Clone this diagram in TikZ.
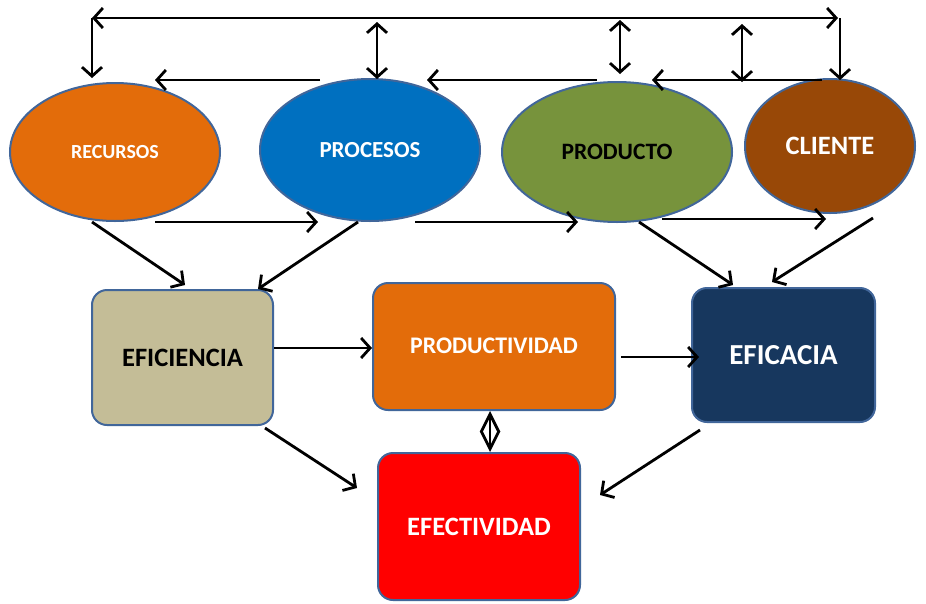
\documentclass[tikz,border=0pt]{standalone}
\usepackage{fontspec}
\setmainfont{Carlito}
\usetikzlibrary{arrows.meta,shapes.geometric}
\definecolor{cOrange}{HTML}{E36C0A}
\definecolor{cBlue}{HTML}{0070C0}
\definecolor{cGreen}{HTML}{77933C}
\definecolor{cBrown}{HTML}{984807}
\definecolor{cTan}{HTML}{C4BD97}
\definecolor{cNavy}{HTML}{17375E}
\definecolor{cRed}{HTML}{FF0000}
\definecolor{cEdge}{HTML}{41669A}
\tikzset{
  ell/.style={ellipse, draw=cEdge, line width=2pt, inner sep=0pt, font=\bfseries},
  rbox/.style={rectangle, rounded corners=15pt, draw=cEdge, line width=2pt, inner sep=0pt, font=\bfseries},
  arr/.style={line width=2.8pt, -{Straight Barb[length=9pt,width=20pt,line width=2.8pt]}},
  darr/.style={line width=2.8pt, {Straight Barb[length=9pt,width=20pt,line width=2.8pt]}-{Straight Barb[length=9pt,width=20pt,line width=2.8pt]}},
  kite/.style={line width=2.8pt, {Straight Barb[length=18pt,width=18pt,line width=2.8pt]}-{Straight Barb[length=18pt,width=18pt,line width=2.8pt]}}
}
\begin{document}
\begin{tikzpicture}[x=1pt,y=-1pt]
\useasboundingbox (0,0) rectangle (926,603);
% ellipses
\node[ell, fill=cOrange, minimum width=210pt, minimum height=138pt, text=white, font=\bfseries\fontsize{20}{24}\selectfont] (rec) at (115,152) {RECURSOS};
\node[ell, fill=cBlue, minimum width=220pt, minimum height=142pt, text=white, font=\bfseries\fontsize{23}{27}\selectfont] (pro) at (370,150) {PROCESOS};
\node[ell, fill=cGreen, minimum width=230pt, minimum height=140pt, text=black, font=\bfseries\fontsize{23.5}{27}\selectfont] (prd) at (617,152) {PRODUCTO};
\node[ell, fill=cBrown, minimum width=170pt, minimum height=134pt, text=white, font=\bfseries\fontsize{26.5}{30}\selectfont] (cli) at (830,146) {CLIENTE};
% boxes
\node[rbox, fill=cTan, minimum width=181pt, minimum height=135pt, text=black, font=\bfseries\fontsize{26.5}{30}\selectfont] (efi) at (182.5,357.5) {EFICIENCIA};
\node[rbox, fill=cOrange, minimum width=242pt, minimum height=127pt, text=white, font=\bfseries\fontsize{23.8}{28}\selectfont] (pdv) at (494,346.5) {\raisebox{1pt}{PRODUCTIVIDAD}};
\node[rbox, fill=cNavy, minimum width=183pt, minimum height=134pt, text=white, font=\bfseries\fontsize{29}{33}\selectfont] (efc) at (783.5,355) {EFICACIA};
\node[rbox, fill=cRed, minimum width=202pt, minimum height=147pt, text=white, font=\bfseries\fontsize{26.5}{30}\selectfont] (efe) at (479,526.5) {EFECTIVIDAD};
% top frame coordinates
\coordinate (tl) at (92,18);
\coordinate (tr) at (838,18);
\coordinate (tlb) at (92,78);
\coordinate (trt) at (840,18);
\coordinate (trb) at (840,80);
\draw[darr] (tl) -- (tr);
\draw[arr] (tl) -- (tlb);
\draw[arr] (trt) -- (trb);
\coordinate (v1a) at (377,22); \coordinate (v1b) at (377,79);
\coordinate (v2a) at (620,20); \coordinate (v2b) at (620,74);
\coordinate (v3a) at (742,24); \coordinate (v3b) at (742,82);
\draw[darr] (v1a) -- (v1b);
\draw[darr] (v2a) -- (v2b);
\draw[darr] (v3a) -- (v3b);
% upper horizontal arrows (leftwards)
\coordinate (h1a) at (320,80); \coordinate (h1b) at (155,80);
\coordinate (h2a) at (597,80); \coordinate (h2b) at (427,80);
\coordinate (h3a) at (822,80); \coordinate (h3b) at (652,80);
\draw[arr] (h1a) -- (h1b);
\draw[arr] (h2a) -- (h2b);
\draw[arr] (h3a) -- (h3b);
% lower horizontal arrows (rightwards)
\coordinate (l1a) at (155,222); \coordinate (l1b) at (318,222);
\coordinate (l2a) at (415,222); \coordinate (l2b) at (578,222);
\coordinate (l3a) at (662,219); \coordinate (l3b) at (826,219);
\draw[arr] (l1a) -- (l1b);
\draw[arr] (l2a) -- (l2b);
\draw[arr] (l3a) -- (l3b);
% diagonals to boxes
\coordinate (d1a) at (92,222); \coordinate (d1b) at (185,285);
\coordinate (d2a) at (358,222); \coordinate (d2b) at (258,289);
\coordinate (d3a) at (639,222); \coordinate (d3b) at (733,285);
\coordinate (d4a) at (873,218); \coordinate (d4b) at (772,282);
\draw[arr] (d1a) -- (d1b);
\draw[arr] (d2a) -- (d2b);
\draw[arr] (d3a) -- (d3b);
\draw[arr] (d4a) -- (d4b);
% box connections
\draw[arr] (efi.east |- 0,348) -- (pdv.west |- 0,348);
\draw[arr] ([xshift=5pt]pdv.east |- 0,357) -- ([xshift=8pt]efc.west |- 0,357);
\coordinate (e1a) at (265,428); \coordinate (e1b) at (357,488);
\coordinate (e2a) at (700,430); \coordinate (e2b) at (600,495);
\draw[arr] (e1a) -- (e1b);
\draw[arr] (e2a) -- (e2b);
\draw[kite] (pdv.south -| 490,0) -- (efe.north -| 490,0);
\end{tikzpicture}
\end{document}
